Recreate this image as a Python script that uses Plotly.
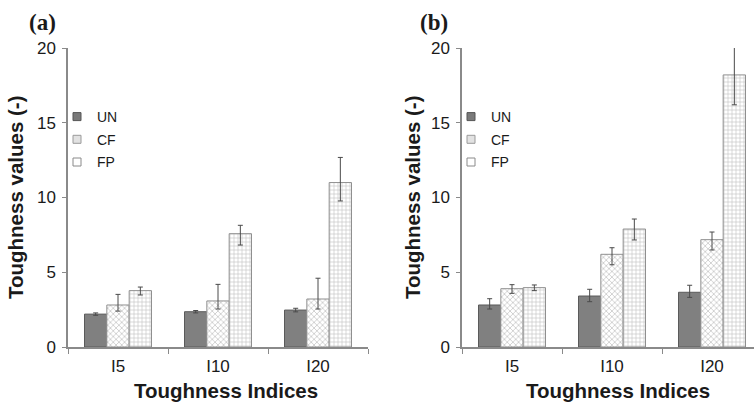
import plotly.graph_objects as go

# Toughness indices on the category axis
indices = ["I5", "I10", "I20"]
series = ["UN", "CF", "FP"]

# Panel (a): mean toughness values and error bar extents (plus / minus)
a_un = [2.2, 2.36, 2.47]
a_un_plus = [0.08, 0.08, 0.12]
a_un_minus = [0.08, 0.08, 0.12]
a_cf = [2.81, 3.08, 3.21]
a_cf_plus = [0.71, 1.11, 1.39]
a_cf_minus = [0.41, 0.54, 0.67]
a_fp = [3.77, 7.58, 11.0]
a_fp_plus = [0.24, 0.56, 1.68]
a_fp_minus = [0.29, 0.76, 1.23]

# Panel (b): mean toughness values and error bar extents (plus / minus)
b_un = [2.81, 3.41, 3.66]
b_un_plus = [0.42, 0.45, 0.47]
b_un_minus = [0.27, 0.38, 0.34]
b_cf = [3.9, 6.2, 7.18]
b_cf_plus = [0.27, 0.44, 0.51]
b_cf_minus = [0.31, 0.7, 0.69]
b_fp = [3.97, 7.89, 18.2]
b_fp_plus = [0.18, 0.67, 2.0]
b_fp_minus = [0.2, 0.73, 2.0]

W, H = 754, 405
FONT = "Liberation Sans, Arial, sans-serif"
AXIS_GRAY = "#8a8a8a"

styles = {
    "UN": dict(color="#808080", line=dict(color="#5a5a5a", width=1)),
    "CF": dict(color="white", line=dict(color="#8f8f8f", width=1),
               pattern=dict(shape="x", fgcolor="#8c8c8c", bgcolor="white", size=4, solidity=0.35)),
    "FP": dict(color="white", line=dict(color="#8f8f8f", width=1),
               pattern=dict(shape="+", fgcolor="#8a8a8a", bgcolor="white", size=4, solidity=0.3)),
}
legend_markers = {
    "UN": dict(color="#7a7a7a", line=dict(color="#555555", width=1)),
    "CF": dict(color="#e2e2e2", line=dict(color="#9a9a9a", width=1)),
    "FP": dict(color="white", line=dict(color="#8a8a8a", width=1)),
}

panels = [
    dict(xa="x", ya="y", legend="legend",
         data={"UN": (a_un, a_un_plus, a_un_minus),
               "CF": (a_cf, a_cf_plus, a_cf_minus),
               "FP": (a_fp, a_fp_plus, a_fp_minus)}),
    dict(xa="x2", ya="y2", legend="legend2",
         data={"UN": (b_un, b_un_plus, b_un_minus),
               "CF": (b_cf, b_cf_plus, b_cf_minus),
               "FP": (b_fp, b_fp_plus, b_fp_minus)}),
]

fig = go.Figure()
for p in panels:
    for s in series:
        vals, plus, minus = p["data"][s]
        fig.add_trace(go.Bar(
            x=indices, y=vals, name=s, xaxis=p["xa"], yaxis=p["ya"],
            marker=styles[s], showlegend=False,
            error_y=dict(type="data", array=plus, arrayminus=minus, symmetric=False,
                         color="#4a4a4a", thickness=1, width=2.5),
        ))
    # small square keys for the legend
    for s in series:
        fig.add_trace(go.Scatter(
            x=[None], y=[None], name=s, mode="markers", xaxis=p["xa"], yaxis=p["ya"],
            marker=dict(symbol="square", size=8, **legend_markers[s]),
            legend=p["legend"], legendgroup=p["legend"] + s,
        ))

ax_common = dict(
    type="category", showline=True, linecolor=AXIS_GRAY, linewidth=1.5,
    ticks="outside", tickson="boundaries", ticklen=5, tickcolor=AXIS_GRAY, tickwidth=1,
    tickfont=dict(family=FONT, size=17, color="#1a1a1a"), ticklabelstandoff=3,
    showgrid=False, zeroline=False, automargin=False,
)
ay_common = dict(
    range=[0, 20], tickvals=[0, 5, 10, 15, 20], showline=True, linecolor=AXIS_GRAY,
    linewidth=1.5, ticks="outside", ticklen=4, tickcolor=AXIS_GRAY, tickwidth=1,
    tickfont=dict(family=FONT, size=17, color="#1a1a1a"), ticklabelstandoff=3,
    showgrid=False, zeroline=False, automargin=False,
)

y_bot = (H - 347) / H
y_top = (H - 48) / H

legend_common = dict(
    y=(H - 101) / H, xanchor="left", yanchor="top", bgcolor="rgba(0,0,0,0)",
    font=dict(family=FONT, size=14, color="#1a1a1a"), itemwidth=30, tracegroupgap=1.5,
)

fig.update_layout(
    width=W, height=H, margin=dict(l=0, r=0, t=0, b=0, pad=0, autoexpand=False),
    paper_bgcolor="white", plot_bgcolor="white",
    barmode="group", bargap=0.33, bargroupgap=0,
    xaxis=dict(ax_common, domain=[68 / W, 368 / W], range=[-0.5, 2.5], anchor="y"),
    yaxis=dict(ay_common, domain=[y_bot, y_top], anchor="x"),
    xaxis2=dict(ax_common, domain=[462 / W, 1.0], range=[-0.5, 2.42], anchor="y2"),
    yaxis2=dict(ay_common, domain=[y_bot, y_top], anchor="x2"),
    legend=dict(legend_common, x=57 / W),
    legend2=dict(legend_common, x=451 / W),
)

title_font = dict(family=FONT, size=20.5, color="#1a1a1a", weight="bold")
serif_font = dict(family="Liberation Serif, Times New Roman, serif", size=23, color="#1a1a1a", weight="bold")
annotations = [
    dict(text="(a)", x=27 / W, y=(H - 22) / H, xanchor="left", yanchor="middle", font=serif_font),
    dict(text="(b)", x=418 / W, y=(H - 22) / H, xanchor="left", yanchor="middle", font=serif_font),
    dict(text="Toughness values (-)", x=16 / W, y=(H - 197) / H, textangle=-90,
         xanchor="center", yanchor="middle", font=title_font),
    dict(text="Toughness values (-)", x=413 / W, y=(H - 197) / H, textangle=-90,
         xanchor="center", yanchor="middle", font=title_font),
    dict(text="Toughness Indices", x=226 / W, y=(H - 390) / H,
         xanchor="center", yanchor="middle", font=title_font),
    dict(text="Toughness Indices", x=618 / W, y=(H - 390) / H,
         xanchor="center", yanchor="middle", font=title_font),
]
for a in annotations:
    a.update(xref="paper", yref="paper", showarrow=False)
fig.update_layout(annotations=annotations)

fig.write_html("out.html")
